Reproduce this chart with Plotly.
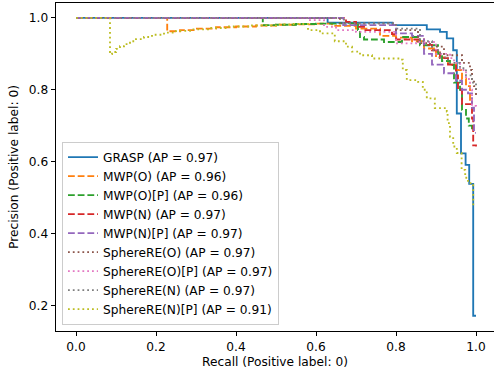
import plotly.graph_objects as go

# ---- data (recall, precision) ----
names = ["GRASP", "MWP(O)", "MWP(O)[P]", "MWP(N)", "MWP(N)[P]",
         "SphereRE(O)", "SphereRE(O)[P]", "SphereRE(N)", "SphereRE(N)[P]"]
ap_values = [0.97, 0.96, 0.96, 0.97, 0.97, 0.97, 0.97, 0.97, 0.91]

r_grasp = [0.0, 0.629, 0.791, 0.877, 0.910, 0.927, 0.943, 0.952, 0.9625, 0.974, 0.983, 0.993, 1.0]
p_grasp = [1.0, 0.987, 0.980, 0.968, 0.961, 0.943, 0.910, 0.734, 0.623, 0.591, 0.538, 0.171, 0.171]

r_mwp_o = [0.0, 0.228, 0.26, 0.30, 0.35, 0.40, 0.45, 0.50, 0.55, 0.60, 0.64, 0.70, 0.76, 0.80, 0.84, 0.87, 0.90, 0.93, 0.95, 0.965, 0.975, 0.985, 0.99]
p_mwp_o = [1.0, 0.963, 0.966, 0.970, 0.974, 0.976, 0.979, 0.981, 0.982, 0.984, 0.978, 0.97, 0.95, 0.945, 0.935, 0.915, 0.89, 0.87, 0.855, 0.83, 0.81, 0.765, 0.76]

r_mwp_op = [0.0, 0.467, 0.50, 0.55, 0.60, 0.65, 0.705, 0.71, 0.72, 0.77, 0.815, 0.86, 0.905, 0.915, 0.935, 0.945, 0.96, 0.965, 0.975, 0.982, 0.99]
p_mwp_op = [1.0, 0.980, 0.981, 0.983, 0.984, 0.985, 0.966, 0.947, 0.94, 0.933, 0.947, 0.924, 0.90, 0.88, 0.869, 0.82, 0.80, 0.744, 0.72, 0.70, 0.685]

r_mwp_n = [0.0, 0.675, 0.70, 0.72, 0.79, 0.80, 0.87, 0.89, 0.91, 0.93, 0.95, 0.955, 0.965, 0.99, 0.993, 1.0]
p_mwp_n = [1.0, 0.989, 0.975, 0.966, 0.955, 0.94, 0.925, 0.91, 0.888, 0.87, 0.84, 0.80, 0.76, 0.72, 0.645, 0.642]

r_mwp_np = [0.0, 0.668, 0.80, 0.84, 0.87, 0.89, 0.92, 0.95, 0.965, 0.98, 0.99, 0.995, 1.0]
p_mwp_np = [1.0, 0.98, 0.957, 0.95, 0.90, 0.87, 0.846, 0.825, 0.80, 0.79, 0.75, 0.68, 0.68]

r_sre_o = [0.0, 0.66, 0.80, 0.855, 0.885, 0.92, 0.965, 0.985, 0.99, 0.995, 1.0]
p_sre_o = [1.0, 0.985, 0.966, 0.93, 0.92, 0.896, 0.875, 0.855, 0.83, 0.81, 0.78]

r_sre_op = [0.0, 0.58, 0.62, 0.65, 0.70, 0.80, 0.85, 0.90, 0.935, 0.945, 0.96, 0.975, 0.985, 0.99, 1.0]
p_sre_op = [1.0, 0.994, 0.975, 0.966, 0.961, 0.929, 0.933, 0.90, 0.888, 0.875, 0.855, 0.83, 0.80, 0.755, 0.752]

r_sre_n = [0.0, 0.67, 0.80, 0.86, 0.89, 0.91, 0.93, 0.96, 0.975, 0.99, 1.0]
p_sre_n = [1.0, 0.985, 0.97, 0.935, 0.91, 0.89, 0.875, 0.86, 0.84, 0.82, 0.80]

r_sre_np = [0.0, 0.085, 0.09, 0.10, 0.11, 0.12, 0.135, 0.15, 0.17, 0.19, 0.22, 0.25, 0.29, 0.33, 0.38,
            0.44, 0.50, 0.54, 0.58, 0.61, 0.647, 0.675, 0.69, 0.71, 0.74, 0.81, 0.817, 0.827, 0.855,
            0.867, 0.877, 0.897, 0.927, 0.929, 0.935, 0.943, 0.952, 0.964, 0.973, 0.98, 0.993, 1.0]
p_sre_np = [1.0, 0.899, 0.905, 0.914, 0.921, 0.927, 0.935, 0.941, 0.947, 0.953, 0.959, 0.964, 0.968, 0.972, 0.976,
            0.979, 0.982, 0.983, 0.966, 0.957, 0.935, 0.92, 0.906, 0.896, 0.887, 0.884, 0.855, 0.827, 0.822,
            0.80, 0.776, 0.749, 0.739, 0.707, 0.669, 0.642, 0.624, 0.577, 0.555, 0.54, 0.478, 0.478]

x_ticks = [0.0, 0.2, 0.4, 0.6, 0.8, 1.0]
y_ticks = [0.2, 0.4, 0.6, 0.8, 1.0]

# ---- styling ----
colors = ["#1f77b4", "#ff7f0e", "#2ca02c", "#d62728", "#9467bd",
          "#8c564b", "#e377c2", "#7f7f7f", "#bcbd22"]
DASHED = "6.8px,2.9px"
DOTTED = "1.8px,3px"
dashes = ["solid", DASHED, DASHED, DASHED, DASHED, DOTTED, DOTTED, DOTTED, DOTTED]

recalls = [r_grasp, r_mwp_o, r_mwp_op, r_mwp_n, r_mwp_np, r_sre_o, r_sre_op, r_sre_n, r_sre_np]
precisions = [p_grasp, p_mwp_o, p_mwp_op, p_mwp_n, p_mwp_np, p_sre_o, p_sre_op, p_sre_n, p_sre_np]

FONT = "DejaVu Sans"
FS = 12.2
fig = go.Figure()
for name, ap, r, p, c, d in zip(names, ap_values, recalls, precisions, colors, dashes):
    fig.add_trace(go.Scatter(
        x=r, y=p, mode="lines", name=f"{name} (AP = {ap:.2f})",
        line=dict(color=c, width=1.85, dash=d, shape="hv"),
    ))

W, H = 494, 375
left, right, top, bottom = 56, 494, 2.7, 331.4
fig.update_layout(
    width=W, height=H,
    margin=dict(l=left, r=W - right, t=top, b=H - bottom, pad=0),
    paper_bgcolor="white", plot_bgcolor="white",
    font=dict(family=FONT, size=FS, color="black"),
    showlegend=True,
    legend=dict(
        x=(62 - left) / (right - left), y=(bottom - 325) / (bottom - top),
        xanchor="left", yanchor="bottom",
        bgcolor="rgba(255,255,255,0.8)", bordercolor="#cccccc", borderwidth=1,
        font=dict(family=FONT, size=FS, color="black"),
        tracegroupgap=0, itemwidth=30,
    ),
    xaxis=dict(
        range=[-0.05, 1.045], tickvals=x_ticks, tickformat=".1f",
        showgrid=False, zeroline=False, automargin=False,
        showline=True, linecolor="black", linewidth=1, mirror=True,
        ticks="outside", ticklen=4.3, tickwidth=1, tickcolor="black",
        title=dict(text="Recall (Positive label: 0)", standoff=4,
                   font=dict(family=FONT, size=FS)),
    ),
    yaxis=dict(
        range=[0.1285, 1.0415], tickvals=y_ticks, tickformat=".1f",
        showgrid=False, zeroline=False, automargin=False,
        showline=True, linecolor="black", linewidth=1, mirror=False,
        ticks="outside", ticklen=4.3, tickwidth=1, tickcolor="black",
        title=dict(text="Precision (Positive label: 0)", standoff=7,
                   font=dict(family=FONT, size=FS)),
    ),
)

fig.write_html(
    "out.html",
    config={"displayModeBar": False},
    post_script="document.body.style.margin='0';document.body.style.overflow='hidden';",
)
